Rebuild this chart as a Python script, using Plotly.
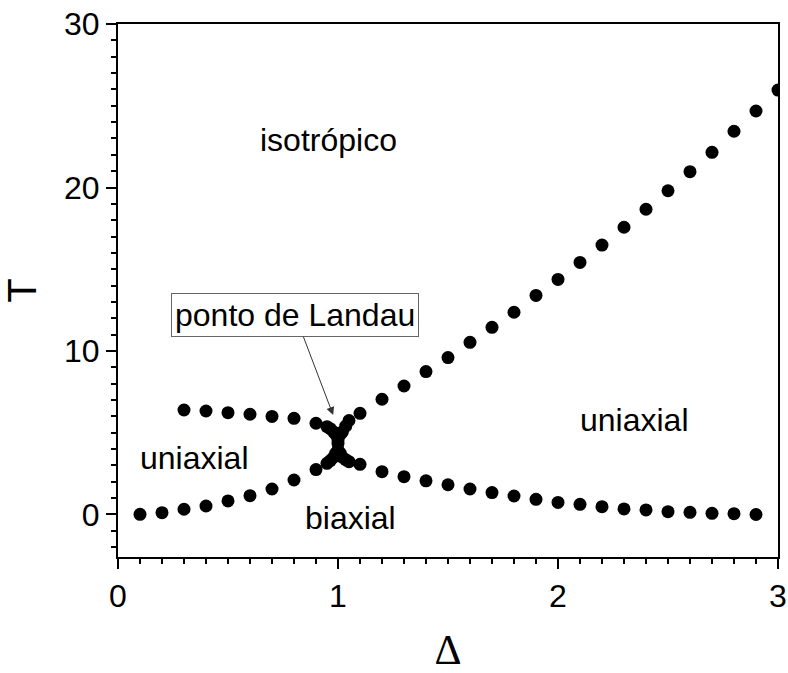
import plotly.graph_objects as go

# Phase boundaries of the nematic phase diagram (Δ, T)
delta_upper_left = [0.3, 0.4, 0.5, 0.6, 0.7, 0.8, 0.9, 0.95, 0.965, 0.98, 0.99, 1.0]
T_upper_left = [6.39, 6.33, 6.23, 6.13, 6.00, 5.88, 5.58, 5.37, 5.25, 5.05, 4.9, 4.75]

delta_lower_left = [0.1, 0.2, 0.3, 0.4, 0.5, 0.6, 0.7, 0.8, 0.9, 0.95, 0.965, 0.98, 0.99, 1.0]
T_lower_left = [0.01, 0.11, 0.32, 0.52, 0.83, 1.15, 1.56, 2.11, 2.75, 3.13, 3.3, 3.5, 3.75, 3.95]

delta_upper_right = [1.01, 1.02, 1.035, 1.05, 1.1, 1.2, 1.3, 1.4, 1.5, 1.6, 1.7, 1.8, 1.9, 2.0,
                     2.1, 2.2, 2.3, 2.4, 2.5, 2.6, 2.7, 2.8, 2.9, 3.0]
T_upper_right = [4.9, 5.05, 5.4, 5.75, 6.19, 7.05, 7.86, 8.74, 9.60, 10.53, 11.45, 12.37, 13.40,
                 14.38, 15.42, 16.48, 17.57, 18.67, 19.80, 20.97, 22.15, 23.44, 24.68, 25.96]

delta_lower_right = [1.01, 1.02, 1.035, 1.05, 1.1, 1.2, 1.3, 1.4, 1.5, 1.6, 1.7, 1.8, 1.9, 2.0,
                     2.1, 2.2, 2.3, 2.4, 2.5, 2.6, 2.7, 2.8, 2.9]
T_lower_right = [3.75, 3.5, 3.35, 3.23, 3.07, 2.62, 2.31, 2.06, 1.82, 1.56, 1.34, 1.13, 0.93, 0.74,
                 0.62, 0.48, 0.34, 0.28, 0.17, 0.13, 0.07, 0.05, 0.0]

delta_landau = [1.0, 1.0]
T_landau = [4.35, 4.55]

# Region labels
region_labels = ["isotrópico", "uniaxial", "uniaxial", "biaxial"]
region_delta = [0.955, 0.346, 2.346, 1.055]
region_T = [22.9, 3.45, 5.75, -0.2]

x_ticks = [0, 1, 2, 3]
y_ticks = [0, 10, 20, 30]

SANS = "Liberation Sans, Arial, sans-serif"

fig = go.Figure()
series = [
    (delta_upper_left, T_upper_left),
    (delta_lower_left, T_lower_left),
    (delta_upper_right, T_upper_right),
    (delta_lower_right, T_lower_right),
    (delta_landau, T_landau),
]
for dx, ty in series:
    fig.add_trace(go.Scatter(
        x=dx, y=ty, mode="markers",
        marker=dict(color="black", size=13, line=dict(width=0)),
        showlegend=False, hoverinfo="skip",
    ))

for text, dx, ty in zip(region_labels, region_delta, region_T):
    fig.add_annotation(x=dx, y=ty, xref="x", yref="y", text=text, showarrow=False,
                       font=dict(family=SANS, size=32, color="black"))

fig.add_annotation(
    x=0.978, y=6.08, xref="x", yref="y",
    text="ponto de Landau", showarrow=True,
    ax=-38, ay=-100,
    arrowhead=2, arrowsize=1.6, arrowwidth=1, arrowcolor="#333333",
    bordercolor="#666666", borderwidth=1, borderpad=3, bgcolor="white",
    font=dict(family=SANS, size=32, color="black"),
)

axis_common = dict(
    showgrid=False, zeroline=False, automargin=False,
    showline=True, linecolor="black", linewidth=2, mirror=True,
    ticks="outside", ticklen=10, tickwidth=2, tickcolor="black",
    tickfont=dict(family=SANS, size=32, color="black"),
)

fig.update_xaxes(
    range=[0, 3], tickvals=x_ticks, ticktext=[str(v) for v in x_ticks],
    minor=dict(dtick=0.1, ticks="outside", ticklen=5, tickwidth=2, tickcolor="black", showgrid=False),
    title=dict(text="Δ", font=dict(family="Liberation Serif, Times New Roman, serif", size=42, color="black"), standoff=30),
    **axis_common,
)
fig.update_yaxes(
    range=[-2.6, 30], tickvals=y_ticks, ticktext=[str(v) for v in y_ticks],
    minor=dict(dtick=1, ticks="outside", ticklen=5, tickwidth=2, tickcolor="black", showgrid=False),
    title=dict(text="T", font=dict(family=SANS, size=40, color="black"), standoff=22),
    **axis_common,
)

fig.update_layout(
    width=788, height=673,
    margin=dict(l=118, r=10, t=24, b=116),
    paper_bgcolor="white", plot_bgcolor="white",
)

fig.write_html("out.html")
